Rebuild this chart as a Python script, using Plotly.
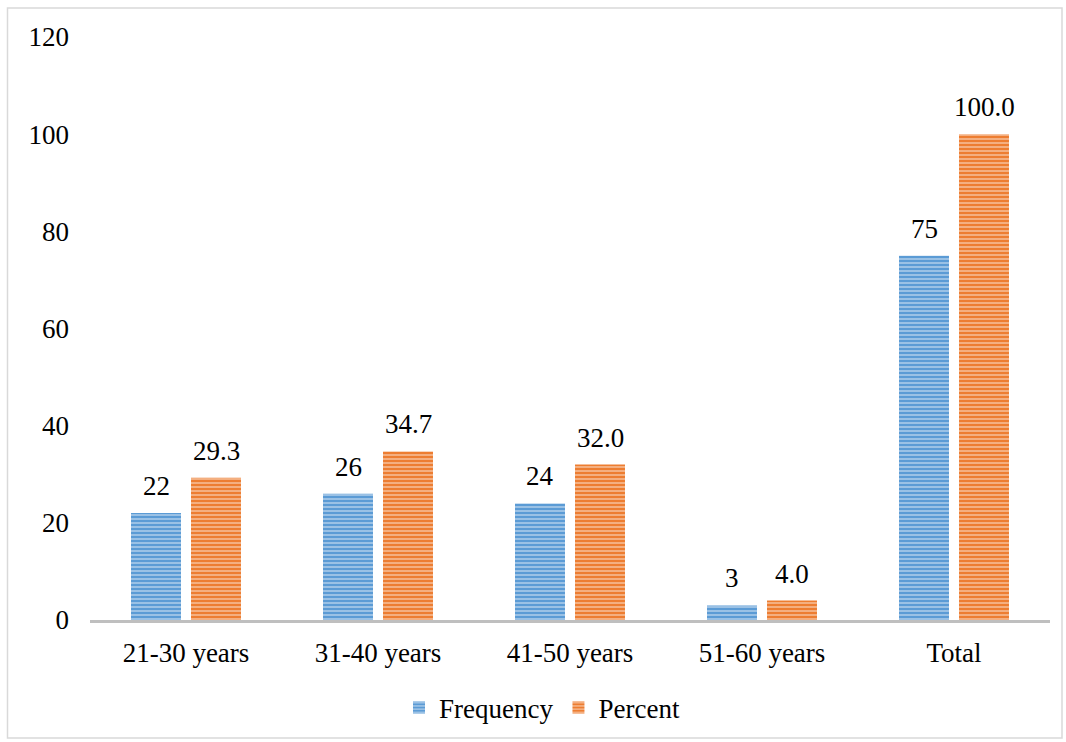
import plotly.graph_objects as go

categories = ["21-30 years", "31-40 years", "41-50 years", "51-60 years", "Total"]
frequency = [22, 26, 24, 3, 75]
percent = [29.3, 34.7, 32.0, 4.0, 100.0]
freq_labels = ["22", "26", "24", "3", "75"]
pct_labels = ["29.3", "34.7", "32.0", "4.0", "100.0"]
y_ticks = [0, 20, 40, 60, 80, 100, 120]

W, H = 1066, 742
L, R, T, B = 90, 16, 37, 122
FONT = "Liberation Serif, Times New Roman, serif"
FS = 27

def pattern():
    return dict(shape="-", fgcolor="white", fgopacity=0.55, size=4, solidity=0.35, fillmode="overlay")

fig = go.Figure()
fig.add_trace(go.Bar(
    name="Frequency", x=categories, y=frequency,
    marker=dict(color="#5b9bd5", line=dict(width=0), pattern=pattern()),
))
fig.add_trace(go.Bar(
    name="Percent", x=categories, y=percent,
    marker=dict(color="#ed7d31", line=dict(width=0), pattern=pattern()),
))

annotations = []
for series, labels, dx in ((frequency, freq_labels, -30), (percent, pct_labels, 30)):
    for c, v, t in zip(categories, series, labels):
        annotations.append(dict(x=c, y=v, xref="x", yref="y", text=t, showarrow=False,
                                xshift=dx, yanchor="bottom", yshift=10,
                                font=dict(family=FONT, size=FS, color="black")))

pw = W - L - R
ph = H - T - B
def px_x(p): return (p - L) / pw
def px_y(p): return (H - B - p) / ph

fig.update_layout(
    width=W, height=H,
    margin=dict(l=L, r=R, t=T, b=B, autoexpand=False),
    paper_bgcolor="white", plot_bgcolor="white",
    barmode="group", bargap=0.375, bargroupgap=0.167,
    font=dict(family=FONT, size=FS, color="black"),
    showlegend=True,
    annotations=annotations,
    legend=dict(orientation="h", x=px_x(542), xanchor="center", y=px_y(708), yanchor="middle",
                font=dict(family=FONT, size=FS), itemwidth=30, tracegroupgap=0),
    xaxis=dict(showgrid=False, showline=True, linecolor="#bfbfbf", linewidth=3,
               ticks="", ticklabelstandoff=7, tickfont=dict(family=FONT, size=FS), zeroline=False),
    yaxis=dict(range=[0, 120], tickvals=y_ticks, showgrid=False, showline=False, zeroline=False,
               ticks="", ticklabelstandoff=20, tickfont=dict(family=FONT, size=FS)),
    shapes=[dict(type="rect", xref="paper", yref="paper",
                 x0=px_x(7.5), x1=px_x(1062), y0=px_y(8), y1=px_y(738),
                 line=dict(color="#d9d9d9", width=1.5), fillcolor="rgba(0,0,0,0)", layer="below")],
)

fig.write_html("out.html")
